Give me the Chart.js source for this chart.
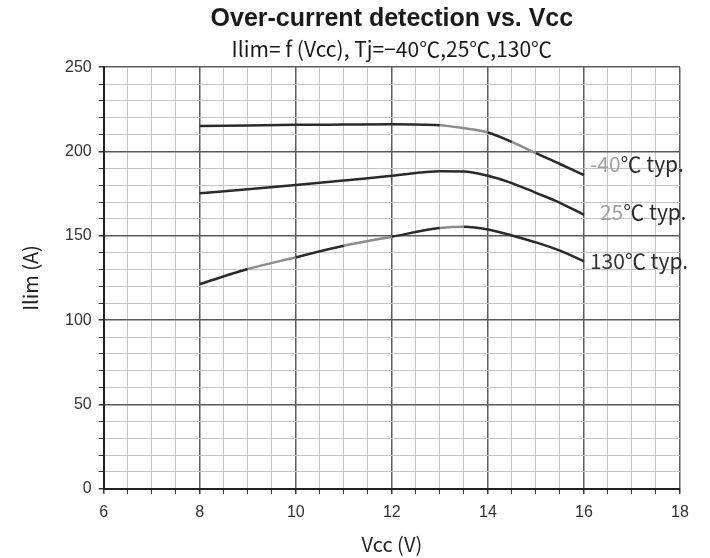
<!DOCTYPE html>
<html>
<head>
<meta charset="utf-8">
<script src="https://cdn.jsdelivr.net/npm/chart.js@4"></script>
<style>
  body { margin: 0; background: #fff; }
  #wrap { width: 710px; height: 558px; }
</style>
</head>
<body>
<div id="wrap"><canvas id="ilimChart"></canvas></div>
<script>
// values
const vcc = [8, 9, 10, 11, 12, 13, 13.5, 14, 14.5, 15, 15.5, 16];
const ilimMinus40 = [215.2, 215.5, 215.8, 216, 216.2, 215.6, 213.8, 211.3, 205.7, 199, 192.6, 186];
const ilim25 = [175.2, 177.6, 180.1, 182.8, 185.6, 188.3, 188.2, 185.6, 181.3, 175.5, 169.6, 162.5];
const ilim130 = [121.4, 130.3, 137.3, 144.1, 149.5, 154.6, 155.4, 153.8, 150.2, 146.1, 141.2, 134.9];

const seriesNames = ['-40', '25', '130'];
const xTicks = [6, 8, 10, 12, 14, 16, 18];
const yTicks = [0, 50, 100, 150, 200, 250];

const CJK = '"Noto Sans CJK JP", "Liberation Sans", sans-serif';
const TICKFONT = '"Liberation Sans", Arial, sans-serif';

function pts(ys) {
  return vcc.map((v, i) => ({x: v, y: ys[i]}));
}

// "-40℃ typ." labels at the right end of each curve
const curveLabels = {
  id: 'curveLabels',
  afterDatasetsDraw(chart) {
    const ctx = chart.ctx;
    const xs = chart.scales.x, ys = chart.scales.y;
    const lastY = [ilimMinus40, ilim25, ilim130].map(a => a[a.length - 1]);
    const dx = [6, 16, 6];
    const dy = [-11, -3, 0];
    const numCol = ['#a0a0a0', '#a0a0a0', '#333'];
    ctx.save();
    ctx.font = '21px ' + CJK;
    ctx.textBaseline = 'middle';
    ctx.textAlign = 'left';
    seriesNames.forEach((n, i) => {
      let px = xs.getPixelForValue(vcc[vcc.length - 1]) + dx[i];
      const py = ys.getPixelForValue(lastY[i]) + dy[i];
      ctx.fillStyle = numCol[i];
      ctx.fillText(n, px, py);
      px += ctx.measureText(n).width;
      ctx.fillStyle = '#2a2a2a';
      ctx.fillText('℃ typ.', px, py);
    });
    ctx.restore();
  }
};

// scanned curves fade to grey in places
function fade(greyIdx) {
  return { borderColor: c => greyIdx.includes(c.p0DataIndex) ? '#8c8c8c' : undefined };
}

const lineStyle = {
  borderColor: '#2a2a2a',
  borderWidth: 2.5,
  pointRadius: 0,
  fill: false,
  cubicInterpolationMode: 'monotone'
};

new Chart(document.getElementById('ilimChart'), {
  type: 'line',
  data: {
    datasets: [
      Object.assign({label: '-40℃ typ.', data: pts(ilimMinus40), segment: fade([5, 6, 8])}, lineStyle),
      Object.assign({label: '25℃ typ.', data: pts(ilim25)}, lineStyle),
      Object.assign({label: '130℃ typ.', data: pts(ilim130), segment: fade([1, 3, 5])}, lineStyle)
    ]
  },
  options: {
    responsive: true,
    maintainAspectRatio: false,
    animation: false,
    layout: { padding: { top: 4, left: 18, right: 30, bottom: 2 } },
    plugins: {
      legend: { display: false },
      tooltip: { enabled: false },
      title: {
        display: true,
        fullSize: false,
        text: 'Over-current detection vs. Vcc',
        color: '#1a1a1a',
        font: { family: '"Liberation Sans", Arial, sans-serif', size: 25, weight: 'bold' },
        padding: { top: 0, bottom: 2 }
      },
      subtitle: {
        display: true,
        fullSize: false,
        text: 'Ilim= f (Vcc), Tj=−40℃,25℃,130℃',
        color: '#1a1a1a',
        font: { family: CJK, size: 21 },
        padding: { top: 0, bottom: 6 }
      }
    },
    scales: {
      x: {
        type: 'linear',
        min: 6, max: 18,
        border: { display: true, color: '#222', width: 2 },
        grid: {
          color: c => (c.tick && c.tick.value % 2 === 0) ? '#5a5a5a' : '#c4c4c4',
          lineWidth: c => (c.tick && c.tick.value % 2 === 0) ? 1.5 : 1,
          tickColor: '#333',
          tickLength: 5
        },
        ticks: {
          stepSize: 0.5,
          autoSkip: false,
          maxRotation: 0,
          color: '#333',
          padding: 9,
          font: { family: TICKFONT, size: 16 },
          callback: v => xTicks.includes(v) ? String(v) : ''
        },
        title: {
          display: true,
          text: 'Vcc (V)',
          color: '#222',
          font: { family: CJK, size: 20 },
          padding: { top: 1, bottom: 0 }
        }
      },
      y: {
        min: 0, max: 250,
        border: { display: true, color: '#222', width: 2 },
        grid: {
          color: c => (c.tick && c.tick.value % 50 === 0) ? '#5a5a5a' : '#c4c4c4',
          lineWidth: c => (c.tick && c.tick.value % 50 === 0) ? 1.5 : 1,
          tickColor: '#333',
          tickLength: 5
        },
        ticks: {
          stepSize: 10,
          autoSkip: false,
          color: '#333',
          padding: 7,
          font: { family: TICKFONT, size: 16 },
          callback: v => yTicks.includes(v) ? String(v) : ''
        },
        title: {
          display: true,
          text: 'Ilim (A)',
          color: '#222',
          font: { family: CJK, size: 20 },
          padding: { top: 0, bottom: 16 }
        }
      }
    }
  },
  plugins: [curveLabels]
});
</script>
</body>
</html>
